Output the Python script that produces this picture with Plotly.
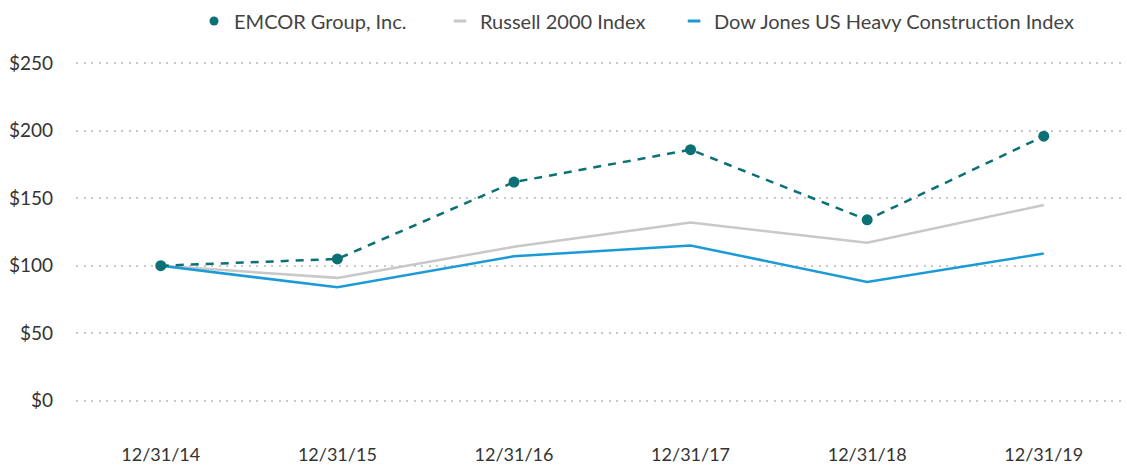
import plotly.graph_objects as go

dates = ["12/31/14", "12/31/15", "12/31/16", "12/31/17", "12/31/18", "12/31/19"]
emcor = [100, 105, 162, 186, 134, 196]
russell = [100, 91, 114, 132, 117, 145]
dowjones = [100, 84, 107, 115, 88, 109]

y_ticks = [0, 50, 100, 150, 200, 250]
y_labels = ["$0", "$50", "$100", "$150", "$200", "$250"]

TEAL = "#0c7074"
GRAY = "#c8c8c8"
BLUE = "#1b9ad8"
FONT = "Lato"

fig = go.Figure()

fig.add_trace(go.Scatter(x=dates, y=russell, mode="lines", line=dict(color=GRAY, width=2.5),
                         showlegend=False, name="Russell 2000 Index"))
fig.add_trace(go.Scatter(x=dates, y=dowjones, mode="lines", line=dict(color=BLUE, width=2.5),
                         showlegend=False, name="Dow Jones US Heavy Construction Index"))
fig.add_trace(go.Scatter(x=dates, y=emcor, mode="lines+markers",
                         line=dict(color=TEAL, width=2.5, dash="8px,7px"),
                         marker=dict(color=TEAL, size=11),
                         showlegend=False, name="EMCOR Group, Inc."))

# legend entries (each in its own legend so positions match the reference)
fig.add_trace(go.Scatter(x=[None], y=[None], mode="markers", name="EMCOR Group, Inc.",
                         marker=dict(color=TEAL, size=9, symbol="circle"), legend="legend"))
fig.add_trace(go.Scatter(x=[None], y=[None], mode="markers", name="Russell 2000 Index",
                         marker=dict(color=GRAY, size=9, symbol="line-ew",
                                     line=dict(color=GRAY, width=3)), legend="legend2"))
fig.add_trace(go.Scatter(x=[None], y=[None], mode="markers", name="Dow Jones US Heavy Construction Index",
                         marker=dict(color=BLUE, size=9, symbol="line-ew",
                                     line=dict(color=BLUE, width=3)), legend="legend3"))

def leg(xpos):
    return dict(orientation="h", x=xpos, xanchor="left", y=1 - 21 / 465, yanchor="middle",
                yref="container", font=dict(size=20, color="#444444"),
                itemwidth=30, bgcolor="rgba(0,0,0,0)")

fig.update_layout(
    width=1127, height=465,
    margin=dict(l=76, r=2, t=62, b=63, autoexpand=False),
    paper_bgcolor="white", plot_bgcolor="white",
    font=dict(family=FONT, size=18, color="#444444"),
    showlegend=True,
    legend=leg(0.1125), legend2=leg(0.347), legend3=leg(0.5701),
    xaxis=dict(type="category", range=[-0.48, 5.46], showgrid=False, zeroline=False,
               showline=False, ticks="", tickfont=dict(size=18, color="#333333"),
               ticklabelstandoff=40),
    yaxis=dict(range=[-1, 251], tickvals=y_ticks, ticktext=y_labels, showgrid=True,
               gridcolor="#c8c8c8", griddash="2px,5.5px", gridwidth=2, zeroline=False,
               showline=False, ticks="", tickfont=dict(size=19, color="#333333"),
               ticklabelstandoff=22),
)

fig.write_html("out.html", config={"displayModeBar": False},
               post_script="document.body.style.margin='0';")
